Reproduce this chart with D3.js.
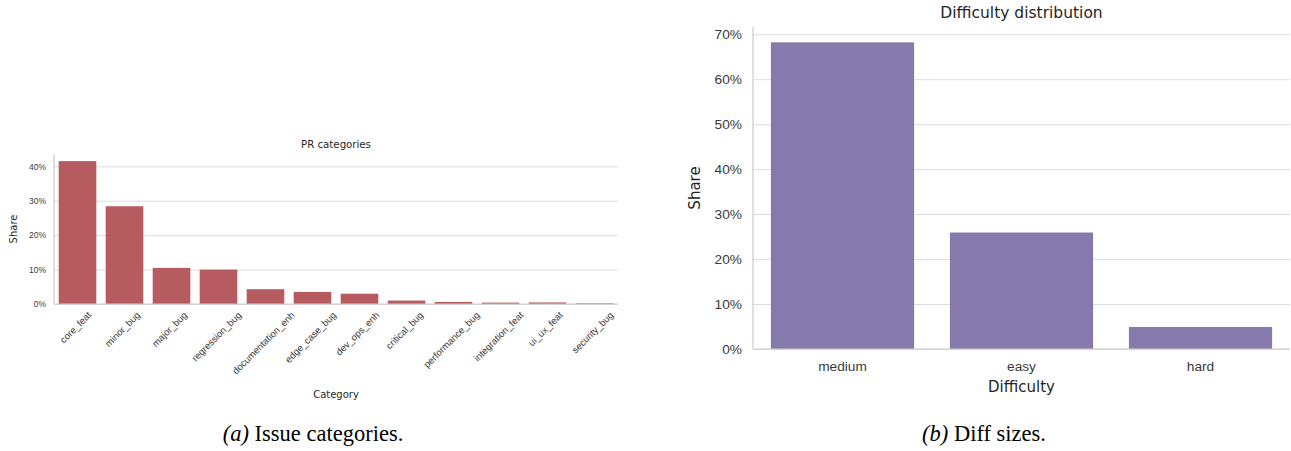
<!DOCTYPE html>
<html lang="en">
<head>
<meta charset="UTF-8">
<title>PR categories and difficulty</title>
<script src="https://d3js.org/d3.v7.min.js"></script>
<style>
    body { margin: 0; background: #fff; }
    svg { display: block; font-family: "DejaVu Sans", sans-serif; }
    .grid line { stroke: #dcdcdc; }
    .grid .domain { display: none; }
    .tick text { fill: #3a3a3a; }
    .caption { font-family: "Liberation Serif", "Times New Roman", serif; font-size: 22.5px; fill: #000; }
</style>
</head>
<body>
<svg id="chart" width="1291" height="451"></svg>
<script>
// left panel: PR categories
const categories = ["core_feat", "minor_bug", "major_bug", "regression_bug", "documentation_enh",
    "edge_case_bug", "dev_ops_enh", "critical_bug", "performance_bug", "integration_feat",
    "ui_ux_feat", "security_bug"];
const categoryShare = [41.5, 28.4, 10.5, 10.0, 4.3, 3.5, 3.0, 1.0, 0.6, 0.4, 0.45, 0.2];
const categoryTicks = [0, 10, 20, 30, 40];

// right panel: difficulty
const difficulties = ["medium", "easy", "hard"];
const difficultyShare = [68.2, 25.9, 4.9];
const difficultyTicks = [0, 10, 20, 30, 40, 50, 60, 70];

const svg = d3.select("#chart");

function panel(opts) {
    const g = svg.append("g");
    const x = d3.scaleBand().domain(opts.cats).range([opts.left, opts.right]).paddingInner(0.2).paddingOuter(0.1);
    const y = d3.scaleLinear().domain([0, d3.max(opts.values) * 1.05]).range([opts.bottom, opts.top]);

    // grid
    g.append("g").attr("class", "grid")
        .attr("transform", `translate(${opts.left},0)`)
        .call(d3.axisLeft(y).tickValues(opts.ticks).tickSize(-(opts.right - opts.left)).tickFormat(""));

    g.selectAll("rect.bar").data(opts.values).join("rect")
        .attr("class", "bar")
        .attr("x", (d, i) => x(opts.cats[i]))
        .attr("width", x.bandwidth())
        .attr("y", d => y(d))
        .attr("height", d => opts.bottom - y(d))
        .attr("fill", opts.color);

    // spines
    g.append("line").attr("x1", opts.left).attr("x2", opts.left)
        .attr("y1", opts.top).attr("y2", opts.bottom).attr("stroke", "#cccccc").attr("stroke-width", 1.2);
    g.append("line").attr("x1", opts.left).attr("x2", opts.right)
        .attr("y1", opts.bottom).attr("y2", opts.bottom).attr("stroke", "#cccccc").attr("stroke-width", 1.2);

    // y tick labels
    const ya = g.append("g").attr("transform", `translate(${opts.left},0)`)
        .call(d3.axisLeft(y).tickValues(opts.ticks).tickSize(0).tickPadding(opts.tickPad).tickFormat(d => d + "%"));
    ya.select(".domain").remove();
    ya.selectAll("text").style("font-size", opts.tickSize + "px");

    // x tick labels
    const xa = g.append("g").attr("transform", `translate(0,${opts.bottom})`)
        .call(d3.axisBottom(x).tickSize(0).tickPadding(opts.xPad));
    xa.select(".domain").remove();
    xa.selectAll("text").style("font-size", opts.xTickSize + "px");
    if (opts.rotate) {
        // rotate about the label centre, bounding box top just under the axis
        xa.selectAll("text").each(function() {
            const len = this.getComputedTextLength();
            const boxH = (len + opts.xTickSize) * Math.SQRT1_2;
            d3.select(this)
                .attr("text-anchor", "middle")
                .attr("y", 0).attr("dy", "0.35em")
                .attr("transform", `translate(-2,${opts.xPad + boxH / 2}) rotate(-45)`);
        });
    }

    const cx = (opts.left + opts.right) / 2;
    g.append("text").attr("x", cx).attr("y", opts.titleY).attr("text-anchor", "middle")
        .style("font-size", opts.titleSize + "px").attr("fill", "#262626").text(opts.title);
    g.append("text").attr("x", cx).attr("y", opts.xlabelY).attr("text-anchor", "middle")
        .style("font-size", opts.labelSize + "px").attr("fill", "#262626").text(opts.xlabel);
    g.append("text").attr("transform", `translate(${opts.ylabelX},${(opts.top + opts.bottom) / 2}) rotate(-90)`)
        .attr("text-anchor", "middle")
        .style("font-size", opts.labelSize + "px").attr("fill", "#262626").text("Share");
}

panel({
    cats: categories, values: categoryShare, ticks: categoryTicks,
    left: 54, right: 618, top: 154, bottom: 304,
    color: "#b65b5f", rotate: true,
    tickSize: 8.5, tickPad: 8, xTickSize: 9.5, xPad: 6, titleSize: 10.2, labelSize: 10,
    title: "PR categories", titleY: 148, xlabel: "Category", xlabelY: 398, ylabelX: 17
});

panel({
    cats: difficulties, values: difficultyShare, ticks: difficultyTicks,
    left: 753, right: 1290, top: 27, bottom: 349,
    color: "#867aac", rotate: false,
    tickSize: 13.7, tickPad: 11, xTickSize: 13.7, xPad: 12, titleSize: 15.5, labelSize: 15,
    title: "Difficulty distribution", titleY: 18, xlabel: "Difficulty", xlabelY: 392, ylabelX: 700
});

// captions
const cap1 = svg.append("text").attr("class", "caption").attr("x", 313).attr("y", 441).attr("text-anchor", "middle");
cap1.append("tspan").style("font-style", "italic").text("(a)");
cap1.append("tspan").text(" Issue categories.");
const cap2 = svg.append("text").attr("class", "caption").attr("x", 984).attr("y", 441).attr("text-anchor", "middle");
cap2.append("tspan").style("font-style", "italic").text("(b)");
cap2.append("tspan").text(" Diff sizes.");
</script>
</body>
</html>
